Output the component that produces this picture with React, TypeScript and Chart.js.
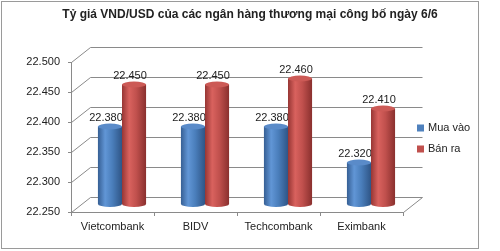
import React, { useEffect, useRef } from "react";
import { Chart, registerables } from "chart.js";

Chart.register(...registerables);

const chartTitle = "Tỷ giá VND/USD của các ngân hàng thương mại công bố ngày 6/6";
const banks = ["Vietcombank", "BIDV", "Techcombank", "Eximbank"];
const seriesNames = ["Mua vào", "Bán ra"];
const muaVao = [22380, 22380, 22380, 22320];
const banRa = [22450, 22450, 22460, 22410];
const yMin = 22250;
const yMax = 22500;
const yStep = 50;

const FONT = "'Liberation Sans', Arial, sans-serif";
const DX = 19;
const DY = -15;
const GRID = "#8a8a8a";
const TEXT = "#222";

const palettes = [
  { legend: "#4f81bd", edgeL: "#365f94", hi: "#6196d6", mid: "#4a7ebb", edgeR: "#2f5586", top: "#5a8bc9" },
  { legend: "#c0504d", edgeL: "#973634", hi: "#d9625e", mid: "#c0504d", edgeR: "#8a302e", top: "#cc5a56" },
];

const fmt = (v: number) => (v / 1000).toFixed(3);

const threeD = {
  id: "threeD",
  beforeDatasetsDraw(chart: any) {
    const { ctx, chartArea } = chart;
    const ys = chart.scales.y;
    const { left, right, bottom } = chartArea;
    ctx.save();
    ctx.strokeStyle = GRID;
    ctx.lineWidth = 1;
    for (let v = yMin; v <= yMax; v += yStep) {
      const yf = Math.round(ys.getPixelForValue(v)) + 0.5;
      ctx.beginPath();
      ctx.moveTo(left + 0.5, yf);
      ctx.lineTo(left + DX + 0.5, yf + DY);
      ctx.lineTo(right + DX + 0.5, yf + DY);
      ctx.stroke();
    }
    const yb = Math.round(bottom) + 0.5;
    ctx.beginPath();
    ctx.moveTo(right + 0.5, yb);
    ctx.lineTo(right + DX + 0.5, yb + DY);
    ctx.stroke();
    ctx.restore();
  },
  afterDatasetsDraw(chart: any) {
    const { ctx, chartArea } = chart;
    const ox = DX / 2;
    const oy = DY / 2;
    const ry = 3;
    chart.data.datasets.forEach((ds: any, di: number) => {
      const meta = chart.getDatasetMeta(di);
      const pal = palettes[di];
      meta.data.forEach((el: any, i: number) => {
        const p = el.getProps(["x", "y", "base", "width"], true);
        const x = p.x + ox;
        const top = p.y + oy;
        const base = Math.min(p.base, chartArea.bottom) + oy;
        const w = p.width;
        const l = x - w / 2;
        const r = x + w / 2;
        const g = ctx.createLinearGradient(l, 0, r, 0);
        g.addColorStop(0, pal.edgeL);
        g.addColorStop(0.3, pal.hi);
        g.addColorStop(0.6, pal.mid);
        g.addColorStop(1, pal.edgeR);
        ctx.save();
        ctx.fillStyle = g;
        ctx.beginPath();
        ctx.moveTo(l, top);
        ctx.lineTo(l, base);
        ctx.ellipse(x, base, w / 2, ry, 0, Math.PI, 0, true);
        ctx.lineTo(r, top);
        ctx.closePath();
        ctx.fill();
        ctx.fillStyle = pal.top;
        ctx.beginPath();
        ctx.ellipse(x, top, w / 2, ry, 0, 0, Math.PI * 2);
        ctx.fill();
        ctx.restore();
        ctx.save();
        ctx.fillStyle = TEXT;
        ctx.font = `11px ${FONT}`;
        ctx.textAlign = "center";
        ctx.textBaseline = "middle";
        ctx.fillText(fmt(ds.data[i]), x - 4, top - 8.5);
        ctx.restore();
      });
    });
  },
  afterDraw(chart: any) {
    const { ctx } = chart;
    ctx.save();
    ctx.strokeStyle = "#9a9a9a";
    ctx.lineWidth = 1;
    ctx.strokeRect(1.5, 1.5, 477, 247);
    ctx.fillStyle = TEXT;
    ctx.font = `bold 12px ${FONT}`;
    ctx.textAlign = "center";
    ctx.textBaseline = "middle";
    ctx.fillText(chartTitle, 250, 15);
    ctx.font = `11px ${FONT}`;
    ctx.textAlign = "left";
    chart.data.datasets.forEach((ds: any, di: number) => {
      const cy = 128 + di * 21;
      ctx.fillStyle = palettes[di].legend;
      ctx.fillRect(417, cy - 3.5, 7, 7);
      ctx.fillStyle = TEXT;
      ctx.fillText(ds.label, 428, cy);
    });
    ctx.restore();
  },
};

export default function App() {
  const ref = useRef<HTMLCanvasElement | null>(null);
  useEffect(() => {
    document.body.style.margin = "0";
    const canvas = ref.current;
    if (!canvas) return;
    const chart = new Chart(canvas, {
      type: "bar",
      data: {
        labels: banks,
        datasets: [
          { label: seriesNames[0], data: muaVao, base: yMin, backgroundColor: "rgba(0,0,0,0)", borderWidth: 0 },
          { label: seriesNames[1], data: banRa, base: yMin, backgroundColor: "rgba(0,0,0,0)", borderWidth: 0 },
        ],
      },
      options: {
        responsive: false,
        animation: false,
        layout: { padding: { top: 62, right: 97, left: 0, bottom: 0 } },
        datasets: { bar: { categoryPercentage: 0.58, barPercentage: 1 } },
        plugins: { legend: { display: false }, tooltip: { enabled: false }, title: { display: false } },
        scales: {
          x: {
            grid: { offset: true, drawOnChartArea: false, drawTicks: true, tickLength: 4, color: GRID },
            border: { display: true, color: GRID },
            ticks: { color: TEXT, font: { family: FONT, size: 11 }, padding: 4, maxRotation: 0 },
            afterFit: (s: any) => { s.height = 39; },
          },
          y: {
            min: yMin,
            max: yMax,
            grid: { drawOnChartArea: false, drawTicks: true, tickLength: 3, color: GRID },
            border: { display: true, color: GRID },
            ticks: {
              stepSize: yStep,
              color: TEXT,
              font: { family: FONT, size: 11 },
              padding: 8,
              callback: (v: any) => fmt(Number(v)),
            },
            afterFit: (s: any) => { s.width = 71; },
          },
        },
      },
      plugins: [threeD],
    });
    return () => chart.destroy();
  }, []);
  return (
    <div style={{ position: "absolute", left: 0, top: 0, width: 500, height: 251, background: "#fff" }}>
      <canvas ref={ref} width={500} height={251} style={{ display: "block", width: 500, height: 251 }} />
    </div>
  );
}
